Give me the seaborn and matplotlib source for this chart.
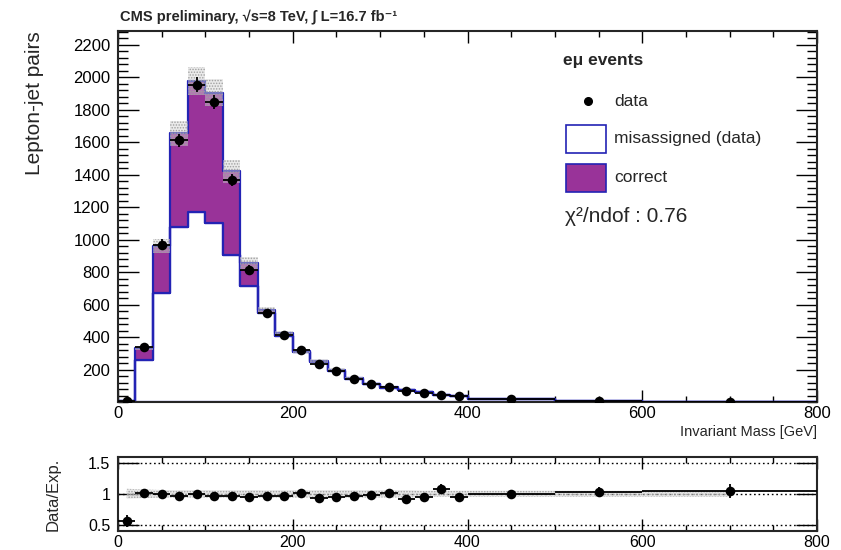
import numpy as np
import pandas as pd
import matplotlib
matplotlib.use("Agg")
import matplotlib.pyplot as plt
from matplotlib.patches import Rectangle
from matplotlib.lines import Line2D
from matplotlib.ticker import MultipleLocator, FixedLocator
import seaborn as sns

# ---- binning (GeV) ----
bin_edges = [0, 20, 40, 60, 80, 100, 120, 140, 160, 180, 200, 220, 240, 260,
             280, 300, 320, 340, 360, 380, 400, 500, 600, 800]

# ---- lepton-jet pair counts per bin ----
data_counts = [5, 339, 970, 1612, 1955, 1846, 1365, 816, 546, 410, 318, 235,
               189, 142, 111, 93, 66, 57, 46, 34, 19, 5, 2]
data_err = [2, 18, 31, 40, 44, 43, 37, 29, 23, 20, 18, 15, 14, 12, 11, 10,
            8, 8, 7, 6, 4, 2, 1]
misassigned = [7, 259, 670, 1076, 1173, 1101, 906, 712, 550, 405, 306, 246,
               194, 143, 111, 89, 71, 59, 42, 35, 18, 5, 2]
correct = [2, 71, 293, 580, 805, 804, 514, 143, 15, 18, 9, 6, 5, 3, 2, 2,
           1, 1, 1, 1, 1, 0, 0]
stack_unc = [2, 12, 44, 77, 88, 85, 70, 40, 22, 17, 13, 10, 8, 6, 5, 4,
             3, 3, 2, 2, 1, 0.3, 0.1]

# ---- data / expectation ----
ratio = [0.56, 1.01, 1.00, 0.97, 0.99, 0.97, 0.96, 0.95, 0.96, 0.97, 1.01,
         0.93, 0.95, 0.97, 0.98, 1.02, 0.92, 0.95, 1.08, 0.95, 1.00, 1.03, 1.04]
ratio_err = [0.10, 0.02, 0.02, 0.02, 0.02, 0.02, 0.02, 0.02, 0.02, 0.02, 0.03,
             0.03, 0.03, 0.04, 0.04, 0.04, 0.05, 0.05, 0.07, 0.05, 0.04, 0.08, 0.11]
ratio_band = [0.08, 0.07, 0.06, 0.06, 0.06, 0.06, 0.06, 0.06, 0.06, 0.06, 0.06,
              0.06, 0.06, 0.06, 0.06, 0.06, 0.06, 0.05, 0.05, 0.05, 0.05, 0.05, 0.05]

y_major = [200, 400, 600, 800, 1000, 1200, 1400, 1600, 1800, 2000, 2200]
ratio_ticks = [0.5, 1, 1.5]
ratio_labels = ["0.5", "1", "1.5"]

PURPLE = "#993399"
BLUE = "#2323b4"

sns.set_style("ticks")
plt.rcParams["font.family"] = ["Liberation Sans", "DejaVu Sans"]
plt.rcParams["hatch.linewidth"] = 0.7

W, H = 841, 550
fig = plt.figure(figsize=(W / 100, H / 100), dpi=100)


def px_rect(left, top, right, bottom):
    return [left / W, 1 - bottom / H, (right - left) / W, (bottom - top) / H]


ax = fig.add_axes(px_rect(118, 31, 817, 402))
ax2 = fig.add_axes(px_rect(118, 456.5, 817, 531))

edges = np.array(bin_edges, dtype=float)
centres = 0.5 * (edges[:-1] + edges[1:])
half_w = 0.5 * np.diff(edges)
n = len(centres)

# ---- stacked expectation ----
hist_df = pd.DataFrame({
    "mass": np.concatenate([centres, centres]),
    "pairs": list(correct) + list(misassigned),
    "component": ["correct"] * n + ["misassigned (data)"] * n,
})
sns.histplot(data=hist_df, x="mass", weights="pairs", hue="component",
             hue_order=["correct", "misassigned (data)"], multiple="stack",
             bins=bin_edges, element="step", fill=True, alpha=1,
             palette={"correct": PURPLE, "misassigned (data)": "white"},
             edgecolor=BLUE, linewidth=1.6, legend=False, ax=ax)

total = np.array(correct, float) + np.array(misassigned, float)
unc = np.array(stack_unc, float)
lo = np.append(total - unc, (total - unc)[-1])
hi = np.append(total + unc, (total + unc)[-1])
ax.fill_between(edges, lo, hi, step="post", facecolor=(0.82, 0.82, 0.82, 0.45),
                edgecolor="#a0a0a0", hatch="......", linewidth=0, zorder=3)

# ---- data ----
ax.errorbar(centres, data_counts, xerr=half_w, yerr=data_err, fmt="none",
            ecolor="black", elinewidth=1.3, capsize=0, zorder=5)
sns.scatterplot(x=centres, y=data_counts, color="black", s=48, linewidth=0,
                zorder=6, legend=False, ax=ax)

ax.set_xlim(0, 800)
ax.set_ylim(0, 2285)
ax.set_xlabel("")
ax.set_ylabel("")
ax.xaxis.set_major_locator(MultipleLocator(200))
ax.xaxis.set_minor_locator(MultipleLocator(50))
ax.yaxis.set_major_locator(FixedLocator(y_major))
ax.yaxis.set_minor_locator(MultipleLocator(40))

# ---- ratio panel ----
rb = np.array(ratio_band)
ax2.fill_between(centres, 1 - rb, 1 + rb, facecolor=(0.82, 0.82, 0.82, 0.5),
                 edgecolor="#a0a0a0", hatch="......", linewidth=0, zorder=2)
for yv in ratio_ticks:
    ax2.axhline(yv, color="black", ls=(0, (1.2, 2)), lw=1.0, zorder=1)
ax2.errorbar(centres, ratio, xerr=half_w, yerr=ratio_err, fmt="none",
             ecolor="black", elinewidth=1.3, capsize=0, zorder=5)
sns.scatterplot(x=centres, y=ratio, color="black", s=48, linewidth=0,
                zorder=6, legend=False, ax=ax2)
ax2.set_xlim(0, 800)
ax2.set_ylim(0.4, 1.6)
ax2.xaxis.set_major_locator(MultipleLocator(200))
ax2.xaxis.set_minor_locator(MultipleLocator(50))
ax2.yaxis.set_major_locator(FixedLocator(ratio_ticks))
ax2.set_yticklabels(ratio_labels)

for a, fs in ((ax, 12), (ax2, 11.5)):
    for s in a.spines.values():
        s.set_linewidth(1.5)
        s.set_visible(True)
    a.tick_params(which="both", direction="in", top=True, right=True,
                  width=1.0, colors="black", labelsize=fs)
    a.tick_params(axis="y", which="major", length=15, pad=5.5)
    a.tick_params(axis="y", which="minor", length=7.5)
    a.tick_params(axis="x", which="major", length=8.5, pad=3)
    a.tick_params(axis="x", which="minor", length=4.3)

# ---- titles and labels ----
fig.text(120 / W, 1 - 17 / H,
         "CMS preliminary, √s=8 TeV, ∫ L=16.7 fb⁻¹",
         fontsize=10.5, fontweight="bold", ha="left", va="center")
fig.text(35 / W, 1 - 103 / H, "Lepton-jet pairs", rotation=90, fontsize=15,
         ha="center", va="center")
fig.text(817 / W, 1 - 432 / H, "Invariant Mass [GeV]", fontsize=10.5,
         ha="right", va="center")
fig.text(53 / W, 1 - 494 / H, "Data/Exp.", rotation=90, fontsize=12,
         ha="center", va="center")

# ---- legend ----
fig.text(563 / W, 1 - 61 / H, "eμ events", fontsize=12.5, fontweight="bold",
         ha="left", va="center")
fig.add_artist(Line2D([588 / W], [1 - 101 / H], marker="o", color="black",
                      markersize=5.5, linestyle="none"))
fig.text(614 / W, 1 - 101 / H, "data", fontsize=12.5, ha="left", va="center")
fig.add_artist(Rectangle((566 / W, 1 - 153 / H), 40 / W, 28 / H,
                         facecolor="white", edgecolor=BLUE, linewidth=1.2,
                         transform=fig.transFigure))
fig.text(614 / W, 1 - 138 / H, "misassigned (data)", fontsize=12.5,
         ha="left", va="center")
fig.add_artist(Rectangle((566 / W, 1 - 192 / H), 40 / W, 28 / H,
                         facecolor=PURPLE, edgecolor=BLUE, linewidth=1.2,
                         transform=fig.transFigure))
fig.text(614 / W, 1 - 178 / H, "correct", fontsize=12.5, ha="left",
         va="center")
fig.text(565 / W, 1 - 217 / H, "χ²/ndof : 0.76", fontsize=15,
         ha="left", va="center")

fig.savefig("out.png", dpi=100)
